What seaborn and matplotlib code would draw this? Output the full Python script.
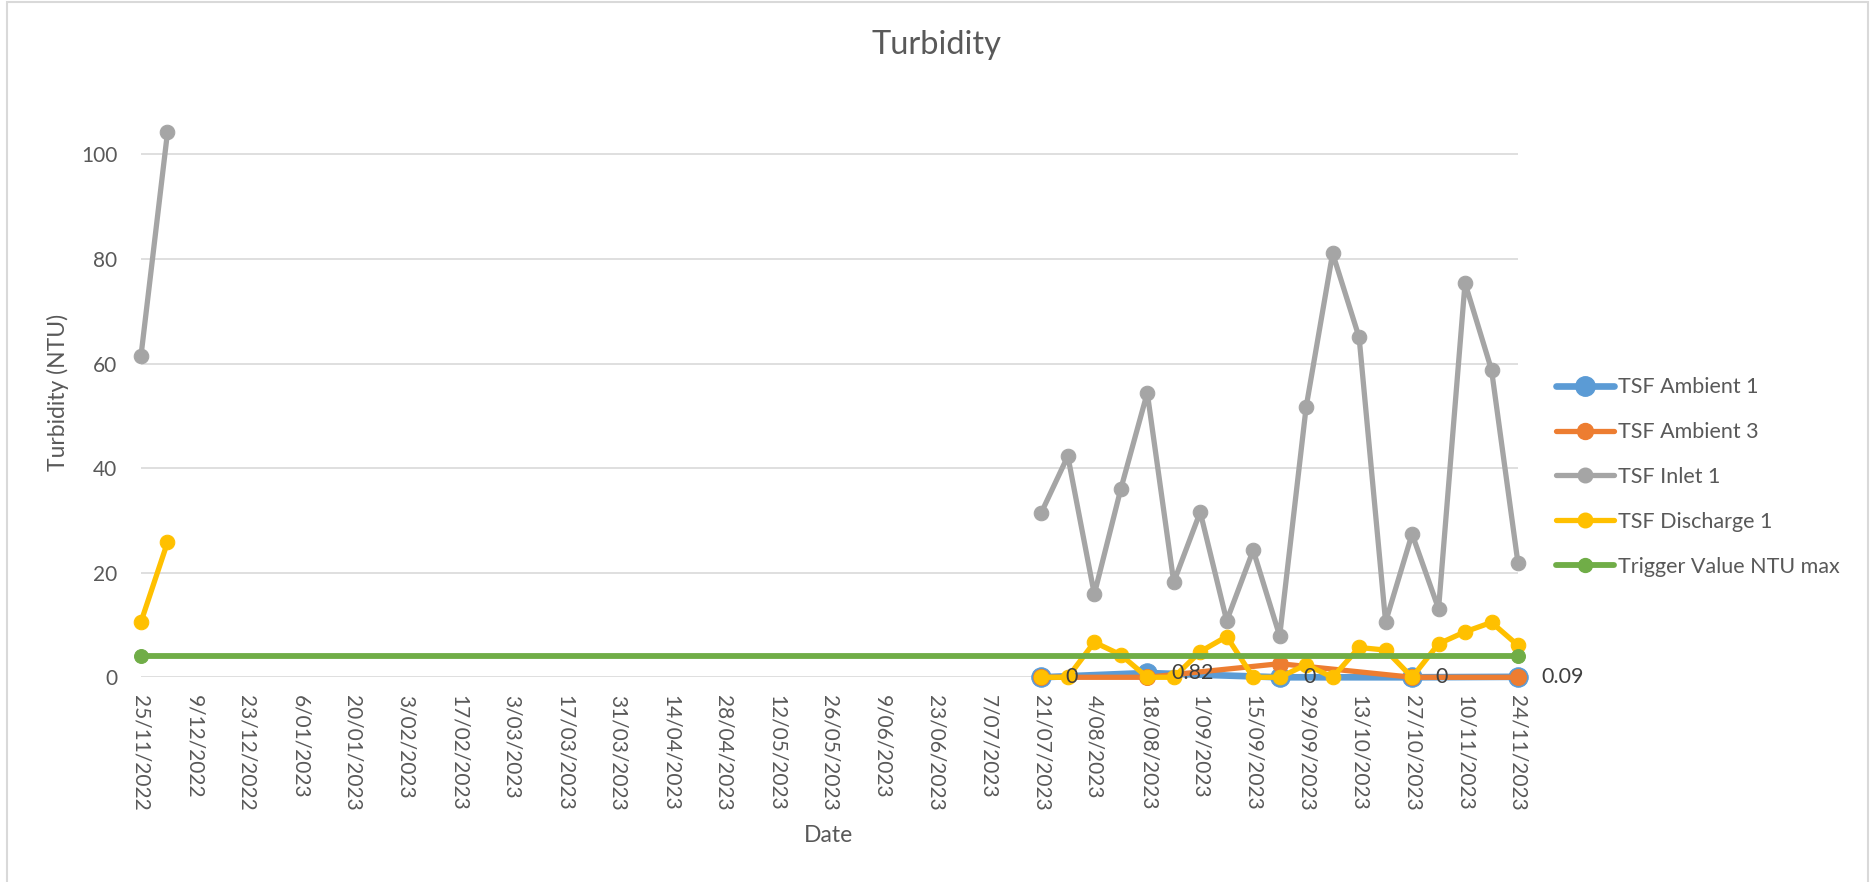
import pandas as pd
import matplotlib
matplotlib.use("Agg")
import matplotlib.pyplot as plt
from matplotlib.lines import Line2D
from matplotlib.patches import Rectangle
import seaborn as sns

# weekly samples, two early ones and a run from late July
EARLY_DATES = ["25/11/2022", "2/12/2022"]
LATE_DATES = [
    "21/07/2023", "28/07/2023", "4/08/2023", "11/08/2023", "18/08/2023",
    "25/08/2023", "1/09/2023", "8/09/2023", "15/09/2023", "22/09/2023",
    "29/09/2023", "6/10/2023", "13/10/2023", "20/10/2023", "27/10/2023",
    "3/11/2023", "10/11/2023", "17/11/2023", "24/11/2023",
]
INLET_EARLY = [61.5, 104.2]
INLET_LATE = [31.5, 42.3, 15.9, 36.0, 54.4, 18.2, 31.6, 10.8, 24.3, 7.9,
              51.7, 81.1, 65.0, 10.6, 27.4, 13.1, 75.4, 58.8, 21.8]
DISCHARGE_EARLY = [10.6, 25.8]
DISCHARGE_LATE = [0, 0, 6.7, 4.3, 0, 0, 4.9, 7.8, 0, 0,
                  2.4, 0, 5.7, 5.2, 0, 6.4, 8.7, 10.5, 6.1]
AMBIENT_DATES = ["21/07/2023", "18/08/2023", "22/09/2023", "27/10/2023", "24/11/2023"]
AMBIENT_1 = [0, 0.82, 0, 0, 0.09]
AMBIENT_3 = [0, 0, 2.6, 0, 0]
TRIGGER_DATES = ["25/11/2022", "24/11/2023"]
TRIGGER = [4, 4]

TICK_DATES = [
    "25/11/2022", "9/12/2022", "23/12/2022", "6/01/2023", "20/01/2023",
    "3/02/2023", "17/02/2023", "3/03/2023", "17/03/2023", "31/03/2023",
    "14/04/2023", "28/04/2023", "12/05/2023", "26/05/2023", "9/06/2023",
    "23/06/2023", "7/07/2023", "21/07/2023", "4/08/2023", "18/08/2023",
    "1/09/2023", "15/09/2023", "29/09/2023", "13/10/2023", "27/10/2023",
    "10/11/2023", "24/11/2023",
]
Y_TICKS = [0, 20, 40, 60, 80, 100]

TEXT = "#595959"


def to_dates(labels):
    return pd.to_datetime(labels, format="%d/%m/%Y")


def make_frame(segments):
    """Build a long frame; each (dates, values) pair is its own line segment."""
    parts = []
    for i, (dates, values) in enumerate(segments):
        parts.append(pd.DataFrame({"date": to_dates(dates), "value": values, "seg": i}))
    return pd.concat(parts, ignore_index=True)


sns.set_style("white")
plt.rcParams["font.family"] = ["Lato", "DejaVu Sans"]

fig = plt.figure(figsize=(18.7, 8.82), dpi=100)
ax = fig.add_axes([141 / 1870, 0.2321, (1518 - 141) / 1870, 0.8605 - 0.2321])

series = [
    ("TSF Ambient 1", "#5B9BD5", [(AMBIENT_DATES, AMBIENT_1)], 4.8, 14),
    ("TSF Ambient 3", "#ED7D31", [(AMBIENT_DATES, AMBIENT_3)], 3.8, 11.5),
    ("TSF Inlet 1", "#A5A5A5", [(EARLY_DATES, INLET_EARLY), (LATE_DATES, INLET_LATE)], 3.8, 10.5),
    ("TSF Discharge 1", "#FFC000", [(EARLY_DATES, DISCHARGE_EARLY), (LATE_DATES, DISCHARGE_LATE)], 3.8, 10.5),
    ("Trigger Value NTU max", "#70AD47", [(TRIGGER_DATES, TRIGGER)], 4.2, 10),
]

handles = []
for z, (name, color, segs, lw, ms) in enumerate(series):
    df = make_frame(segs)
    sns.lineplot(data=df, x="date", y="value", units="seg", estimator=None,
                 color=color, linewidth=lw, marker="o", markersize=ms,
                 markeredgecolor=color, markerfacecolor=color,
                 ax=ax, zorder=3 + z, clip_on=False, legend=False)
    handles.append(Line2D([], [], color=color, linewidth=lw, marker="o",
                          markersize=ms, solid_capstyle="round", label=name))

# data labels on the Ambient 1 series
for d, v in zip(to_dates(AMBIENT_DATES), AMBIENT_1):
    ax.annotate(f"{v:g}", (d, v), xytext=(17, 0), textcoords="offset points",
                ha="left", va="center", fontsize=15.5, color="#404040",
                zorder=20, annotation_clip=False)

ax.set_xlim(to_dates(TICK_DATES)[0], to_dates(TICK_DATES)[-1])
ax.set_ylim(0, 106)
ax.set_xticks(to_dates(TICK_DATES))
ax.set_xticklabels(TICK_DATES, rotation=-90, fontsize=15, color=TEXT)
ax.set_yticks(Y_TICKS)
ax.set_yticklabels([str(t) for t in Y_TICKS], fontsize=15, color=TEXT)
ax.tick_params(axis="x", length=0, pad=13)
ax.tick_params(axis="y", length=0, pad=17)
ax.set_xlabel("")
ax.set_ylabel("")
ax.grid(axis="y", color="#d9d9d9", linewidth=1.2)
ax.grid(axis="x", visible=False)
sns.despine(ax=ax, left=True, bottom=True)

fig.text(937 / 1870, 1 - 45 / 882, "Turbidity", ha="center", va="center",
         fontsize=23.5, color=TEXT)
fig.text(829 / 1870, 1 - 835 / 882, "Date", ha="center", va="center",
         fontsize=16.5, color=TEXT)
fig.text(58 / 1870, 1 - 392 / 882, "Turbidity (NTU)", ha="center", va="center",
         rotation=90, fontsize=16.5, color=TEXT)

fig.legend(handles=handles, loc="center left",
           bbox_to_anchor=(1556 / 1870, 1 - 477 / 882),
           bbox_transform=fig.transFigure, frameon=False, fontsize=15.5,
           handlelength=2.7, handletextpad=0.2, labelspacing=1.15,
           borderpad=0, borderaxespad=0, labelcolor=TEXT)

fig.patches.append(Rectangle((7 / 1870, -0.1), (1868 - 7) / 1870, 1.1 - 2 / 882,
                             transform=fig.transFigure, fill=False,
                             edgecolor="#d9d9d9", linewidth=1.5))

fig.savefig("out.png", dpi=100)
